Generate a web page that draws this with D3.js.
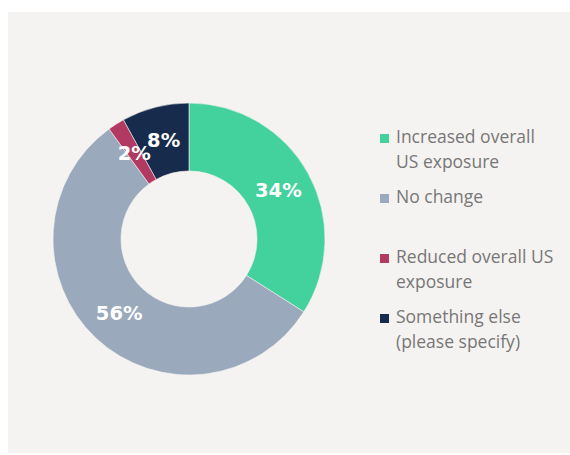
<!DOCTYPE html>
<html>
<head>
<meta charset="utf-8">
<script src="https://cdn.jsdelivr.net/npm/d3@7"></script>
<style>
  html, body { margin: 0; padding: 0; background: #ffffff; }
  svg { display: block; }
</style>
</head>
<body>
<svg id="chart" width="570" height="455"></svg>
<script>
// Survey answers: change in overall US exposure
const categories = [
  "Increased overall US exposure",
  "No change",
  "Reduced overall US exposure",
  "Something else (please specify)"
];
const legendLines = [
  ["Increased overall", "US exposure"],
  ["No change"],
  ["Reduced overall US", "exposure"],
  ["Something else", "(please specify)"]
];
const shares = [34, 56, 2, 8];
const colors = ["#43d19e", "#9aa9bb", "#b23a62", "#172b4d"];

const svg = d3.select("#chart");

// Light panel behind the chart
svg.append("rect")
  .attr("x", 8).attr("y", 12)
  .attr("width", 562).attr("height", 441)
  .attr("fill", "#f5f3f1");

const data = categories.map((c, i) => ({ category: c, value: shares[i], color: colors[i], lines: legendLines[i] }));

const cx = 189, cy = 239;
const outerR = 136, innerR = 68;

const pie = d3.pie().sort(null).value(d => d.value);
const arc = d3.arc().innerRadius(innerR).outerRadius(outerR);

const g = svg.append("g").attr("transform", `translate(${cx},${cy})`);
const arcs = pie(data);

g.selectAll("path.slice")
  .data(arcs)
  .join("path")
  .attr("class", "slice")
  .attr("d", arc)
  .attr("fill", d => d.data.color)
  .attr("stroke", "#f5f3f1")
  .attr("stroke-width", 0.6);

g.selectAll("text.pct")
  .data(arcs)
  .join("text")
  .attr("class", "pct")
  .attr("transform", d => `translate(${arc.centroid(d)})`)
  .attr("text-anchor", "middle")
  .attr("dy", "0.36em")
  .attr("fill", "#ffffff")
  .style("font-family", "'DejaVu Sans', sans-serif")
  .style("font-weight", 700)
  .style("font-size", "19.5px")
  .text(d => d.data.value + "%");

// Legend
const legendX = 380, textX = 396;
const baselines = d3.scaleBand()
  .domain(categories)
  .range([143, 383])
  .paddingInner(0)
  .paddingOuter(0);

const legend = svg.append("g");
const items = legend.selectAll("g.item")
  .data(data)
  .join("g")
  .attr("class", "item")
  .attr("transform", d => `translate(0,${baselines(d.category)})`);

items.append("rect")
  .attr("x", legendX)
  .attr("y", -9)
  .attr("width", 9)
  .attr("height", 9)
  .attr("fill", d => d.color);

items.append("text")
  .attr("x", textX)
  .attr("fill", "#777777")
  .style("font-family", "'Open Sans', sans-serif")
  .style("font-size", "17.5px")
  .selectAll("tspan")
  .data(d => d.lines)
  .join("tspan")
  .attr("x", textX)
  .attr("y", (l, i) => i * 24.5)
  .text(l => l);
</script>
</body>
</html>
